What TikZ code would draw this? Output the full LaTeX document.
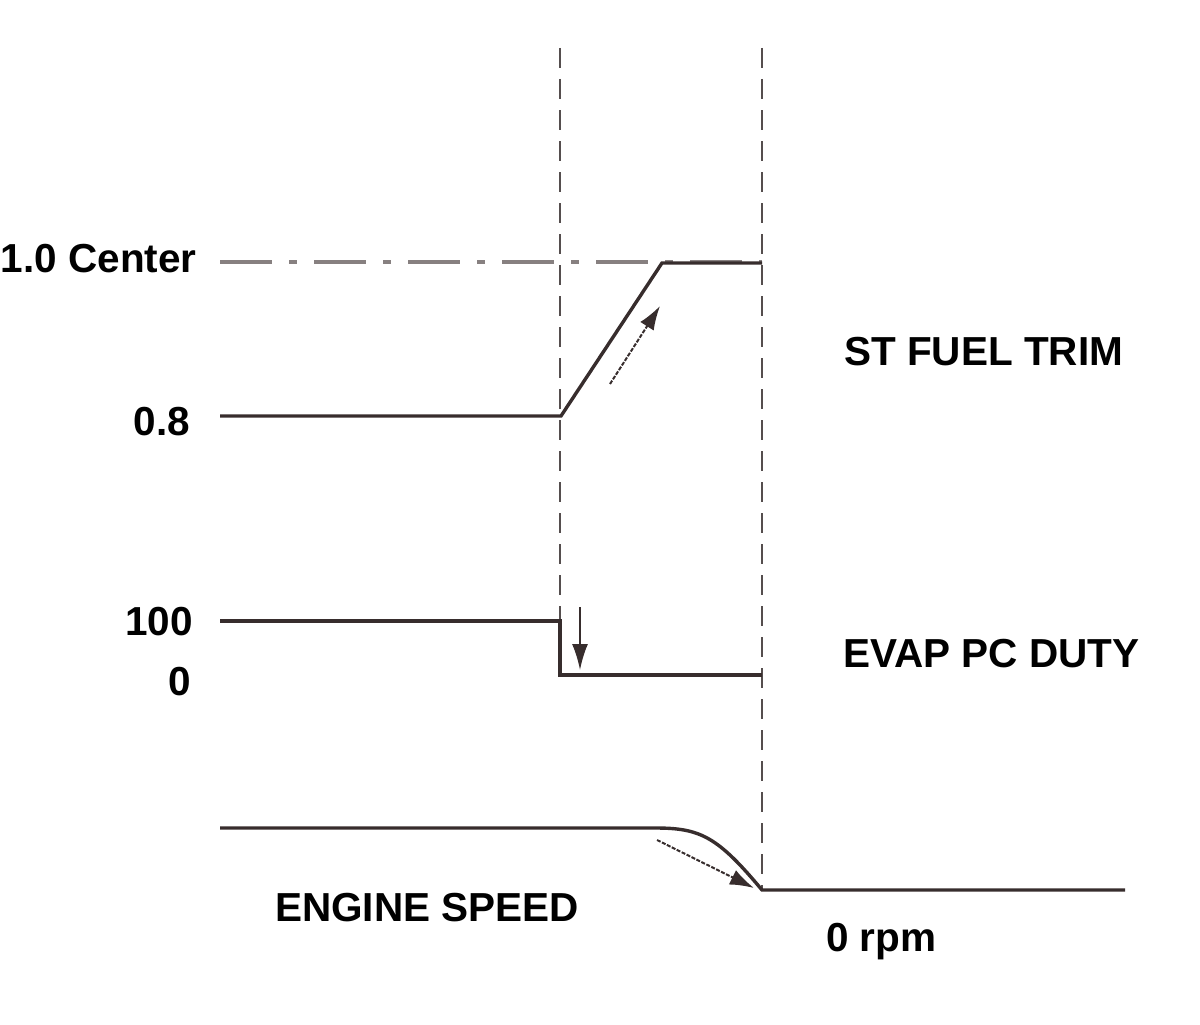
\documentclass[tikz,border=0pt]{standalone}
\usepackage{fontspec}
\setmainfont{Liberation Sans}
\usetikzlibrary{arrows.meta}
\definecolor{ink}{RGB}{55,45,45}
\definecolor{guidegray}{RGB}{85,78,78}
\definecolor{dotgray}{RGB}{135,128,128}
\begin{document}
\begin{tikzpicture}[x=1pt,y=-1pt,
  trace/.style={ink,line width=3.4pt,line join=miter},
  guide/.style={guidegray,line width=2.8pt,dash pattern=on 20pt off 11pt},
  centerline/.style={dotgray,line width=3.2pt,dash pattern=on 52pt off 17pt on 8pt off 17pt},
  hint/.style={ink,line width=2pt,dash pattern=on 4pt off 1.5pt,-{Latex[length=24pt,width=16pt]}},
  solidhint/.style={ink,line width=2pt,-{Latex[length=26pt,width=16pt]}},
  lbl/.style={font=\fontsize{40.5}{48}\selectfont\bfseries,inner sep=0pt,text=black}]
\useasboundingbox (0,0) rectangle (1200,1025);
% guide lines
\coordinate (g1top) at (560,48);
\coordinate (g1bot) at (560,621);
\coordinate (g2top) at (762,48);
\coordinate (g2bot) at (762,890);
\coordinate (c0) at (220,262);
\coordinate (c1) at (762,262);
\draw[centerline] (c0) -- (c1);
\draw[guide] (g1top) -- (g1bot);
\draw[guide] (g2top) -- (g2bot);
% ST fuel trim
\coordinate (st0) at (220,416);
\coordinate (st1) at (561,416);
\coordinate (st2) at (662,263);
\coordinate (st3) at (762,263);
\draw[trace] (st0) -- (st1) -- (st2) -- (st3);
\coordinate (ra0) at (610,384);
\coordinate (ra1) at (660,306);
\draw[hint] (ra0) -- (ra1);
% EVAP
\coordinate (ev0) at (220,621);
\coordinate (ev1) at (560,621);
\coordinate (ev2) at (560,675);
\coordinate (ev3) at (762,675);
\draw[trace] (ev0) -- (ev1) -- (ev2) -- (ev3);
\coordinate (da0) at (580,607);
\coordinate (da1) at (580,670);
\draw[solidhint] (da0) -- (da1);
% Engine speed
\coordinate (es0) at (220,828);
\coordinate (es1) at (655,828);
\coordinate (es2) at (762,890);
\coordinate (es3) at (1125,890);
\draw[trace] (es0) -- (es1) .. controls (700,828) and (717,836) .. (es2) -- (es3);
\coordinate (ea0) at (657,840);
\coordinate (ea1) at (754,888);
\draw[hint] (ea0) -- (ea1);
% labels
\node[lbl,anchor=base east] (l10) at (197,272) {1.0 Center};
\node[lbl,anchor=base east] (l08) at (190,435) {0.8};
\node[lbl,anchor=base east] (l100) at (193,635) {100};
\node[lbl,anchor=base east] (l0) at (191,695) {0};
\node[lbl,anchor=base west] (stft) at (844,365) {ST FUEL TRIM};
\node[lbl,anchor=base west] (evap) at (843,667) {EVAP PC DUTY};
\node[lbl,anchor=base west] (eng) at (275,921) {ENGINE SPEED};
\node[lbl,anchor=base west] (rpm) at (826,951) {0 rpm};
\end{tikzpicture}
\end{document}
